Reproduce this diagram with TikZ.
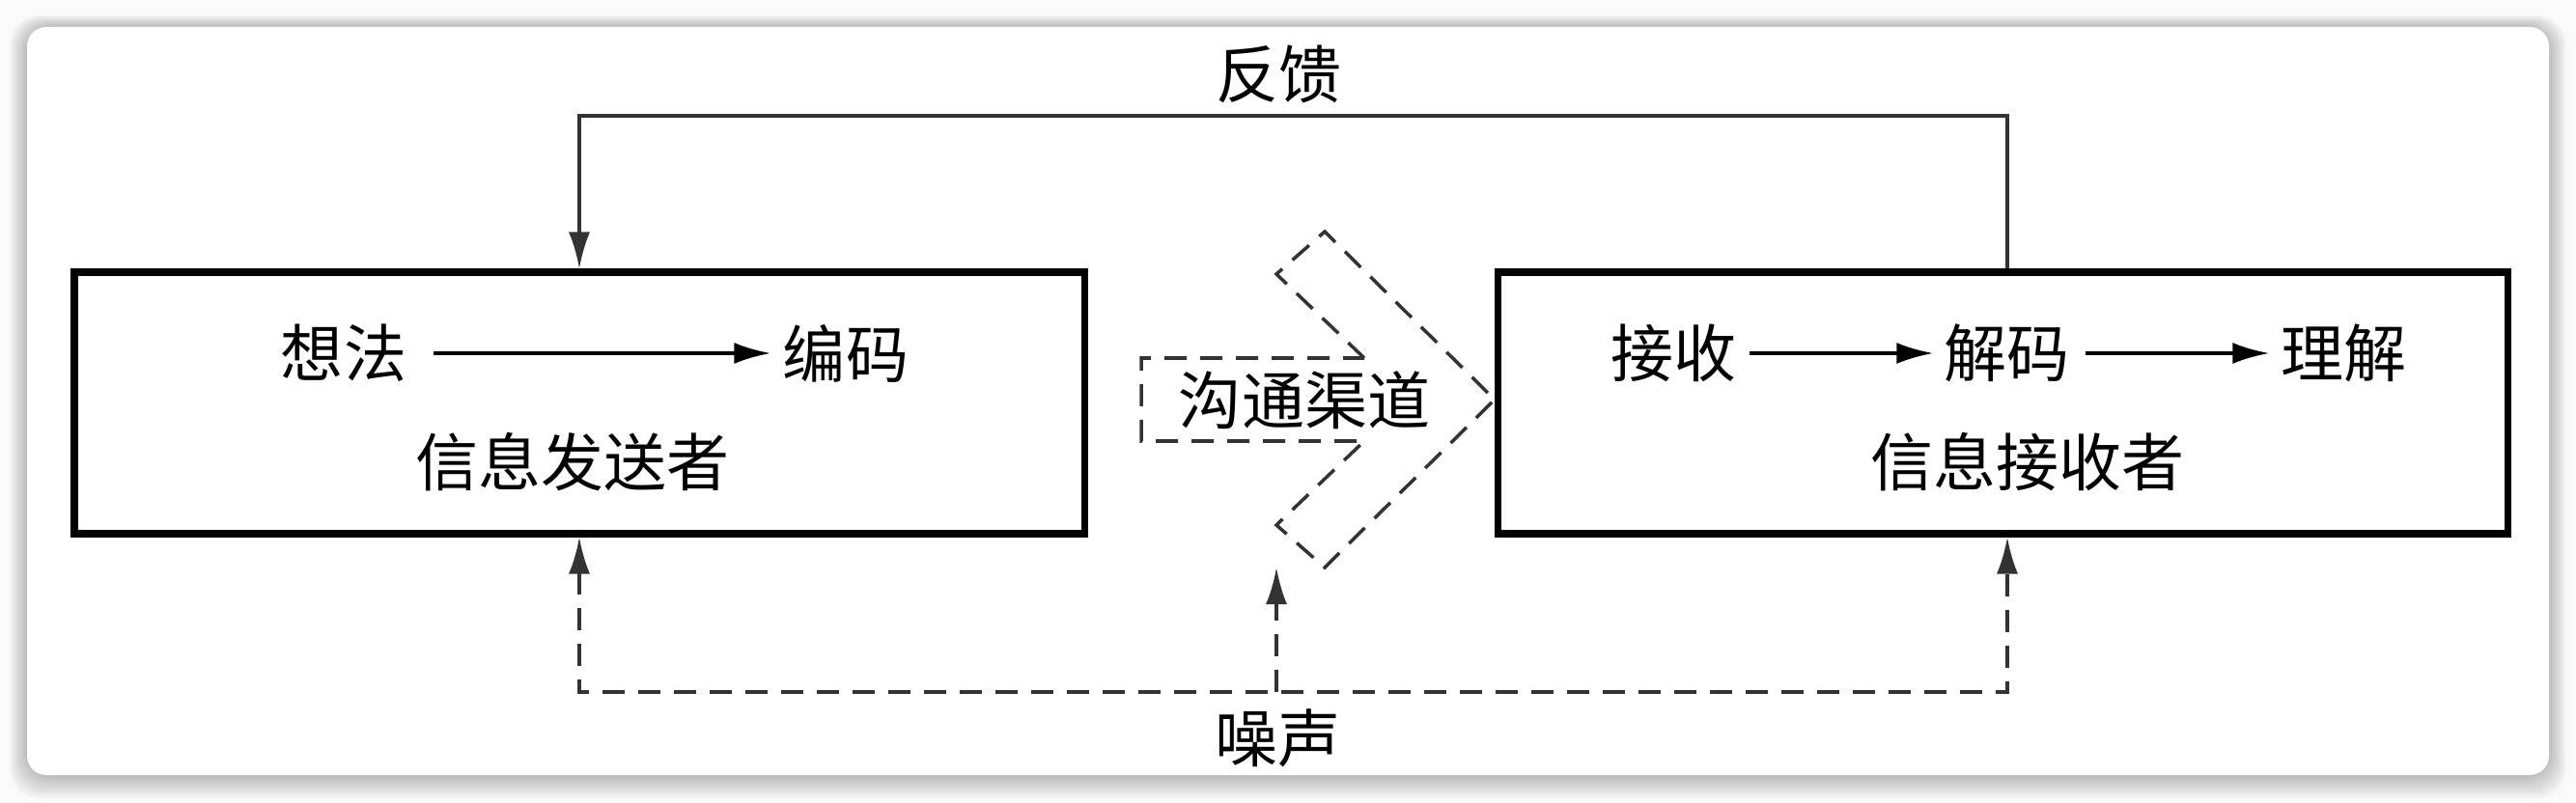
\documentclass[tikz,border=0pt]{standalone}
\usepackage{fontspec}
\setmainfont{Noto Sans CJK SC}
\usetikzlibrary{arrows.meta}
\begin{document}
\begin{tikzpicture}[x=1cm,y=1cm,
  lbl/.style={inner sep=0pt, font=\fontsize{18.5pt}{20pt}\selectfont},
  boxnode/.style={draw=black, line width=2pt, minimum width=10.46cm, minimum height=2.71cm, inner sep=0pt},
  tip/.style={-{Latex[length=3.8mm,width=2.2mm]}},
  thinarrow/.style={line width=1pt, tip},
  fbline/.style={line width=1pt, draw=black!80},
  dashline/.style={line width=1pt, draw=black!80, dash pattern=on 2.3mm off 1.4mm},
]
\useasboundingbox (0,0) rectangle (26.68,-8.32);
\fill[gray!4] (0,0) rectangle (26.68,-8.32);
% card shadow
\foreach \i in {1,...,8} {
  \fill[black, opacity=0.03, rounded corners=0.3cm] (0.28-\i*0.022, -0.28+\i*0.015) rectangle (26.40+\i*0.022, -8.03-\i*0.03);
}
\fill[white, rounded corners=0.2cm] (0.28,-0.28) rectangle (26.40,-8.03);

% boxes
\node[boxnode] (sender) at (6.00,-4.175) {};
\node[boxnode] (receiver) at (20.74,-4.175) {};
\coordinate (rN) at ([xshift=0.05cm]receiver.north);
\coordinate (rS) at ([xshift=0.05cm]receiver.south);

% labels
\node[lbl] (idea) at (3.56,-3.66) {想法};
\node[lbl] (encode) at (8.76,-3.66) {编码};
\node[lbl] (senderlbl) at (5.93,-4.79) {信息发送者};
\node[lbl] (receive) at (17.33,-3.66) {接收};
\node[lbl] (decode) at (20.78,-3.66) {解码};
\node[lbl] (understand) at (24.27,-3.66) {理解};
\node[lbl] (receiverlbl) at (21.00,-4.79) {信息接收者};
\node[lbl] (channel) at (13.51,-4.15) {沟通渠道};
\node[lbl] (feedback) at (13.24,-0.77) {反馈};
\node[lbl] (noise) at (13.23,-7.65) {噪声};

% inner arrows
\draw[thinarrow, shorten <=0.27cm, shorten >=0.12cm] (idea) -- (encode);
\draw[thinarrow, shorten <=0.13cm, shorten >=0.10cm] (receive) -- (decode);
\draw[thinarrow, shorten <=0.16cm, shorten >=0.11cm] (decode) -- (understand);

% feedback
\coordinate (fbY) at (0,-1.20);
\draw[fbline, tip] (rN) -- (rN |- fbY) -| (sender.north);

% noise
\coordinate (nzY) at (0,-7.17);
\draw[dashline, {Latex[length=3.8mm,width=2.2mm]}-{Latex[length=3.8mm,width=2.2mm]}]
  (sender.south) -- (sender.south |- nzY) -- (rS |- nzY) -- (rS);
\coordinate (nzMid) at (13.22,-7.17);
\coordinate (chanTip) at (13.22,-5.88);
\draw[dashline, tip] (nzMid) -- (chanTip);

% channel chevron
\draw[dashline] (14.13,-3.71) -- (13.22,-2.84) -- (13.72,-2.40) -- (15.48,-4.14)
  -- (13.72,-5.88) -- (13.22,-5.44) -- (14.13,-4.57) -- (11.82,-4.57)
  -- (11.82,-3.71) -- cycle;
\end{tikzpicture}
\end{document}
